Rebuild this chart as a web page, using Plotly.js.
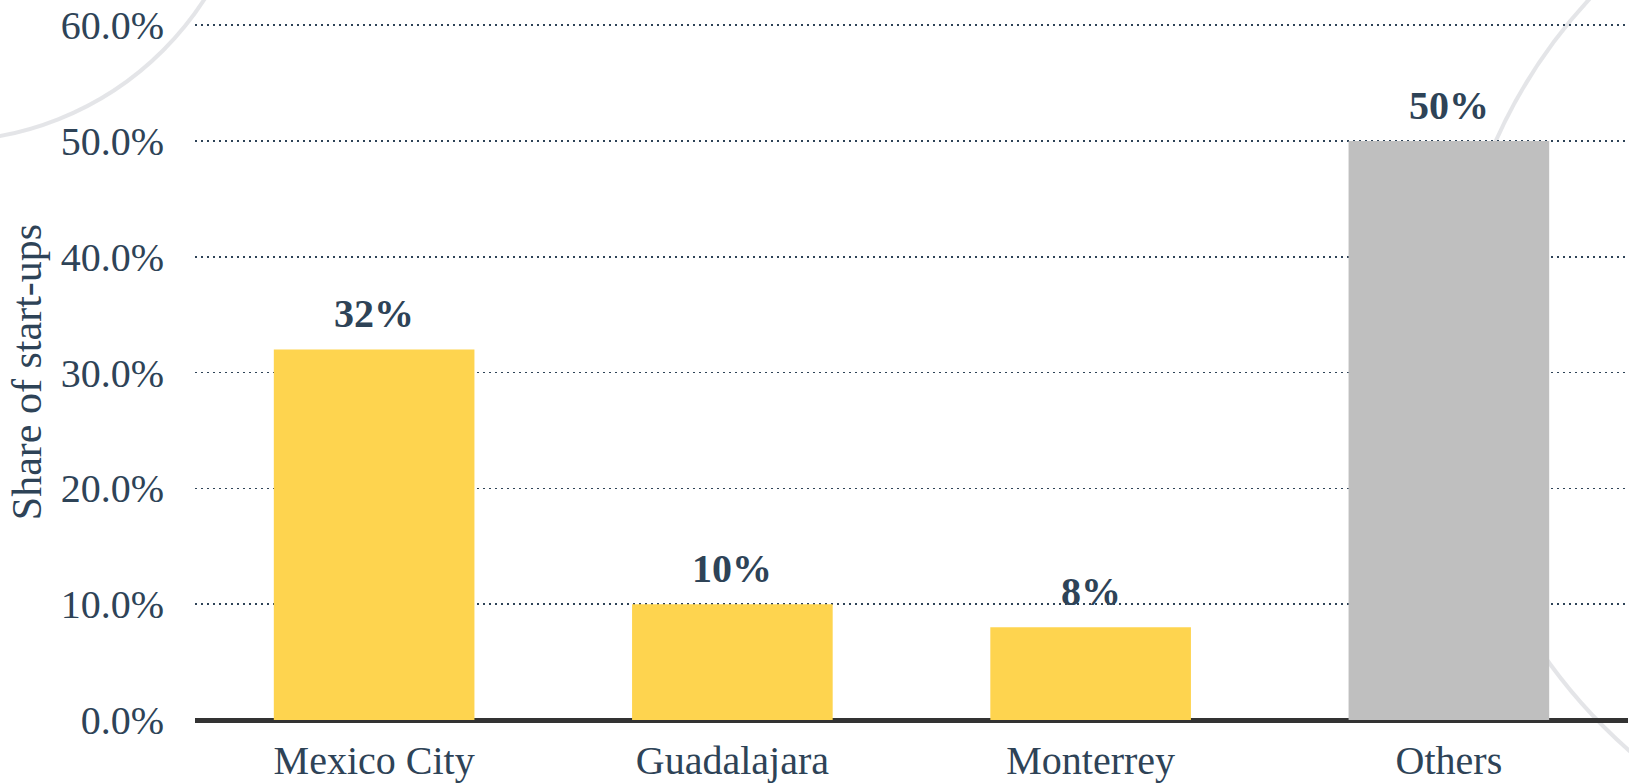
<!DOCTYPE html>
<html>
<head>
<meta charset="utf-8">
<script src="https://cdn.plot.ly/plotly-3.0.1.min.js"></script>
<style>
  html, body { margin: 0; padding: 0; background: #ffffff; }
  #chart { width: 1629px; height: 784px; }
</style>
</head>
<body>
<div id="chart"></div>
<script>
const categories = ["Mexico City", "Guadalajara", "Monterrey", "Others"];
const shares = [32, 10, 8, 50];
const barColors = ["#fed44f", "#fed44f", "#fed44f", "#bfbfbf"];
const valueLabels = ["32%", "10%", "8%", "50%"];
const yTitle = "Share of start-ups";

const textColor = "#2e4357";
const fontFamily = "'Liberation Serif', 'Times New Roman', serif";

const trace = {
  type: "bar",
  x: categories,
  y: shares,
  marker: { color: barColors, line: { width: 0 } },
  cliponaxis: false,
  hoverinfo: "skip"
};

const labelAnnotations = categories.map((c, i) => ({
  x: c,
  y: shares[i],
  xref: "x",
  yref: "y",
  text: "<b>" + valueLabels[i] + "</b>",
  showarrow: false,
  yanchor: "bottom",
  yshift: 11,
  font: { family: fontFamily, size: 40, color: textColor }
}));

const layout = {
  width: 1629,
  height: 784,
  margin: { l: 195, r: 1, t: 24, b: 64 },
  paper_bgcolor: "#ffffff",
  plot_bgcolor: "rgba(0,0,0,0)",
  bargap: 0.44,
  showlegend: false,
  font: { family: fontFamily, color: textColor, size: 40 },
  xaxis: {
    type: "category",
    showgrid: false,
    showline: false,
    zeroline: false,
    ticks: "",
    tickfont: { family: fontFamily, size: 40, color: textColor },
    ticklabelstandoff: 13,
    fixedrange: true
  },
  yaxis: {
    range: [0, 60.1],
    dtick: 10,
    tick0: 0,
    tickformat: ".1f",
    ticksuffix: "%",
    showgrid: true,
    gridcolor: "#2e4357",
    gridwidth: 1.5,
    griddash: "2px,4px",
    zeroline: true,
    zerolinecolor: "#333333",
    zerolinewidth: 5,
    showline: false,
    ticks: "",
    ticklabelstandoff: 30,
    tickfont: { family: fontFamily, size: 40, color: textColor },
    title: { text: yTitle, font: { family: fontFamily, size: 42, color: textColor }, standoff: 5 },
    fixedrange: true
  },
  annotations: labelAnnotations,
  shapes: [
    {
      type: "circle", xref: "paper", yref: "paper", layer: "below",
      x0: -0.3915, x1: 0.0412, y0: 0.8317, y1: 1.7237,
      line: { color: "rgba(205,207,214,0.55)", width: 4 }
    },
    {
      type: "circle", xref: "paper", yref: "paper", layer: "below",
      x0: 0.8758, x1: 1.6071, y0: -0.2302, y1: 1.2777,
      line: { color: "rgba(205,207,214,0.55)", width: 4 }
    }
  ]
};

Plotly.newPlot("chart", [trace], layout, { displayModeBar: false, staticPlot: true });
</script>
</body>
</html>
